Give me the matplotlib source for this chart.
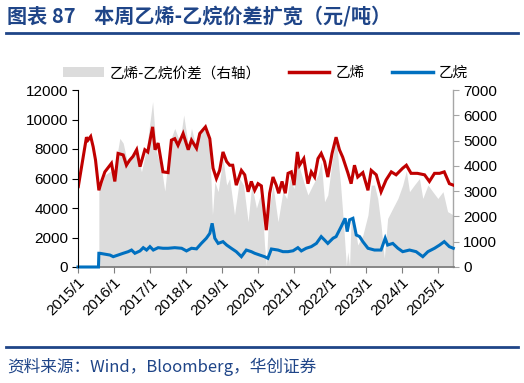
import pandas as pd
import matplotlib
matplotlib.use('Agg')
import matplotlib.pyplot as plt
from matplotlib.lines import Line2D
from matplotlib.patches import Patch

plt.rcParams['font.family'] = ['Liberation Sans', 'Noto Sans CJK SC', 'DejaVu Sans']
plt.rcParams['axes.unicode_minus'] = False

# 乙烯 (元/吨, 左轴)
ethylene_dates = ['2015-01-04', '2015-03-28', '2015-04-12', '2015-05-10', '2015-06-04', '2015-06-28',
                  '2015-08-01', '2015-08-28', '2015-10-01', '2015-12-07', '2016-01-10', '2016-02-12',
                  '2016-04-04', '2016-05-07', '2016-06-10', '2016-07-13', '2016-08-19', '2016-09-22',
                  '2016-11-10', '2016-12-10', '2017-01-28', '2017-02-22', '2017-03-25', '2017-05-13',
                  '2017-07-04', '2017-08-07', '2017-09-10', '2017-10-13', '2017-12-04', '2018-01-25',
                  '2018-02-27', '2018-04-19', '2018-05-22', '2018-07-19', '2018-09-01', '2018-10-04',
                  '2018-11-07', '2018-12-10', '2019-01-13', '2019-02-19', '2019-03-22', '2019-04-22',
                  '2019-05-28', '2019-07-19', '2019-08-22', '2019-09-25', '2019-10-28', '2019-12-01',
                  '2020-01-04', '2020-02-07', '2020-03-28', '2020-05-01', '2020-06-04', '2020-07-07',
                  '2020-08-01', '2020-09-04', '2020-10-07', '2020-11-04', '2020-12-07', '2021-01-04',
                  '2021-02-07', '2021-03-01', '2021-04-13', '2021-05-25', '2021-06-28', '2021-08-01',
                  '2021-09-04', '2021-10-07', '2021-11-10', '2021-12-13', '2022-01-25', '2022-03-07',
                  '2022-04-10', '2022-05-13', '2022-07-04', '2022-08-07', '2022-09-10', '2022-10-13',
                  '2022-12-04', '2023-01-25', '2023-02-27', '2023-04-19', '2023-06-07', '2023-07-28',
                  '2023-09-19', '2023-11-07', '2024-01-13', '2024-02-19', '2024-04-07', '2024-06-10',
                  '2024-08-22', '2024-10-10', '2024-12-01', '2025-01-22', '2025-03-10', '2025-05-01',
                  '2025-06-10']
ethylene = [5450, 8800, 8600, 8850, 8150, 7250,
            5200, 5800, 6450, 7030, 5800, 7700,
            7600, 6900, 7250, 7500, 7950, 6800,
            7950, 7800, 9500, 7950, 8400, 6450,
            6400, 8600, 8700, 8250, 9050, 7950,
            8600, 8050, 9050, 9500, 8700, 6700,
            6000, 6550, 7800, 7150, 6900, 6900,
            5550, 6550, 6250, 5100, 5800, 5200,
            5650, 5500, 2500, 5000, 6100, 5550,
            5000, 5800, 5000, 6350, 6450, 5550,
            7800, 6900, 7350, 5650, 6450, 6100,
            7350, 7700, 7150, 6100, 7700, 8800,
            7950, 7450, 6400, 5650, 6900, 6100,
            6400, 5200, 6550, 6250, 5100, 5900,
            6450, 6250, 6700, 6900, 6350, 6350,
            6250, 5800, 6350, 6350, 6450, 5650,
            5550]

# 乙烷 (元/吨, 左轴)
ethane_dates = ['2015-01-01', '2015-07-28', '2015-08-01', '2015-08-10', '2015-11-22', '2015-12-25',
                '2016-02-12', '2016-04-04', '2016-05-25', '2016-06-28', '2016-08-01', '2016-09-22',
                '2016-10-25', '2016-11-28', '2017-01-01', '2017-02-04', '2017-03-25', '2017-05-13',
                '2017-07-04', '2017-09-10', '2017-11-19', '2018-01-07', '2018-02-27', '2018-04-19',
                '2018-06-07', '2018-07-28', '2018-09-01', '2018-09-25', '2018-10-22', '2018-11-25',
                '2019-01-13', '2019-02-19', '2019-04-07', '2019-05-28', '2019-07-19', '2019-09-07',
                '2019-10-28', '2019-12-01', '2020-01-22', '2020-03-10', '2020-04-13', '2020-05-19',
                '2020-07-25', '2020-09-13', '2020-11-04', '2020-12-25', '2021-02-12', '2021-03-19',
                '2021-05-07', '2021-06-28', '2021-08-19', '2021-10-07', '2021-11-10', '2021-12-13',
                '2022-02-04', '2022-03-07', '2022-04-28', '2022-06-07', '2022-06-28', '2022-07-22',
                '2022-08-25', '2022-09-28', '2022-11-01', '2022-12-04', '2023-01-25', '2023-04-01',
                '2023-06-07', '2023-07-19', '2023-08-13', '2023-10-04', '2023-11-25', '2024-01-13',
                '2024-03-22', '2024-05-28', '2024-08-04', '2024-09-25', '2024-12-01', '2025-01-22',
                '2025-03-10', '2025-05-01', '2025-06-10']
ethane = [0, 0, 930, 930, 810, 700,
          810, 930, 1040, 1150, 930, 1090,
          1310, 1150, 1380, 1150, 1310, 1270,
          1270, 1310, 1270, 1090, 1270, 1230,
          1600, 1950, 2280, 2960, 1950, 1600,
          1720, 1490, 1270, 1040, 700, 1150,
          1040, 930, 810, 700, 590, 1220,
          1150, 1040, 1040, 1100, 1310, 1090,
          1270, 1380, 1600, 2060, 1830, 1600,
          1950, 2060, 2740, 3300, 2400, 3200,
          3300, 2170, 2060, 1720, 1270, 1150,
          1150, 1950, 1490, 1600, 1270, 1040,
          1150, 1040, 700, 1040, 1270, 1490,
          1720, 1380, 1270]

# 乙烯-乙烷价差 (右轴)
spread_dates = ['2015-08-01', '2015-08-18', '2015-10-01', '2016-01-10', '2016-03-01', '2016-04-04',
                '2016-05-25', '2016-08-01', '2016-10-07', '2016-11-28', '2017-01-28', '2017-03-07',
                '2017-04-28', '2017-06-01', '2017-07-22', '2017-09-10', '2017-11-01', '2017-12-10',
                '2018-01-25', '2018-02-27', '2018-04-19', '2018-06-07', '2018-07-28', '2018-09-01',
                '2018-09-28', '2018-10-22', '2018-11-25', '2019-01-13', '2019-02-19', '2019-03-22',
                '2019-05-10', '2019-07-01', '2019-08-10', '2019-09-25', '2019-11-01', '2019-12-19',
                '2020-02-07', '2020-03-10', '2020-03-28', '2020-04-22', '2020-06-04', '2020-07-25',
                '2020-09-13', '2020-10-22', '2020-11-22', '2021-01-04', '2021-02-07', '2021-03-10',
                '2021-04-22', '2021-05-25', '2021-07-13', '2021-09-04', '2021-10-07', '2021-11-10',
                '2021-12-13', '2022-01-25', '2022-03-07', '2022-04-22', '2022-05-25', '2022-06-19',
                '2022-07-04', '2022-07-22', '2022-08-07', '2022-09-10', '2022-10-13', '2022-12-04',
                '2023-01-25', '2023-02-27', '2023-04-01', '2023-05-04', '2023-06-07', '2023-07-10',
                '2023-08-13', '2023-10-04', '2023-11-25', '2024-01-13', '2024-02-19', '2024-03-22',
                '2024-05-10', '2024-07-01', '2024-08-04', '2024-09-25', '2024-11-13', '2025-01-04',
                '2025-02-25', '2025-04-13', '2025-06-10']
spread = [3000, 3120, 3640, 3900, 5090, 4900,
          4000, 4700, 3770, 4700, 6540, 4560,
          3900, 3000, 4950, 5480, 4950, 6010,
          4820, 5480, 4700, 5480, 5350, 4560,
          2060, 3370, 2980, 4300, 3240, 3500,
          2060, 3500, 3240, 1790, 3240, 2330,
          2980, 870, 50, 2190, 3240, 1790,
          2980, 2700, 3500, 3100, 4300, 3800,
          3240, 2850, 3240, 3640, 4160, 2580,
          2850, 4160, 5090, 3240, 1530, 50,
          600, 50, 1940, 1700, 870, 1260,
          2060, 3240, 3240, 2710, 1660, 350,
          1920, 2320, 2710, 3240, 3800, 2980,
          3240, 3500, 2710, 3240, 2980, 2710,
          2980, 2190, 2060]

year_ticks = ['2015-01-01', '2016-01-01', '2017-01-01', '2018-01-01', '2019-01-01', '2020-01-01',
              '2021-01-01', '2022-01-01', '2023-01-01', '2024-01-01', '2025-01-01']
year_labels = ['2015/1', '2016/1', '2017/1', '2018/1', '2019/1', '2020/1',
               '2021/1', '2022/1', '2023/1', '2024/1', '2025/1']

navy = '#1F4588'
red = '#C00000'
blue = '#0070C0'
grey_fill = '#DCDCDC'

fig = plt.figure(figsize=(5.24, 3.83), dpi=100)
ax = fig.add_axes([78 / 524, 1 - 267 / 383, (453.5 - 78) / 524, (267 - 90) / 383])
ax2 = ax.twinx()

sd = pd.to_datetime(spread_dates)
ax2.fill_between(sd, spread, 0, color=grey_fill, lw=0)
ax2.set_ylim(0, 7000)
ax2.set_yticks(range(0, 7001, 1000))

ax.plot(pd.to_datetime(ethylene_dates), ethylene, color=red, lw=2.2, solid_joinstyle='miter')
ax.plot(pd.to_datetime(ethane_dates), ethane, color=blue, lw=2.2, solid_joinstyle='miter',
        clip_on=False)
ax.set_ylim(0, 12000)
ax.set_yticks(range(0, 12001, 2000))
ax.set_xlim(pd.Timestamp('2015-01-01'), pd.Timestamp('2025-06-12'))
ax.set_xticks(pd.to_datetime(year_ticks))
ax.set_xticklabels(year_labels, rotation=45, ha='right', rotation_mode='anchor')

ax.set_zorder(ax2.get_zorder() + 1)
ax.patch.set_visible(False)

for a in (ax, ax2):
    a.spines['top'].set_visible(False)
ax.spines['right'].set_visible(False)
ax2.spines['left'].set_visible(False)
ax2.spines['bottom'].set_visible(False)
ax.spines['left'].set_color('black')
ax.spines['left'].set_linewidth(0.8)
ax.spines['bottom'].set_color('#7F7F7F')
ax.spines['bottom'].set_linewidth(1.3)
ax.spines['bottom'].set_zorder(1)
ax2.spines['right'].set_color('#A6A6A6')
ax2.spines['right'].set_linewidth(1.0)

ax.tick_params(axis='y', labelsize=11, length=4, width=0.8, color='black', pad=3)
ax.tick_params(axis='x', labelsize=11, length=4, width=0.8, color='#7F7F7F', pad=2)
ax2.tick_params(axis='y', labelsize=11, length=4, width=0.8, color='#A6A6A6', pad=3)

handles = [Patch(facecolor=grey_fill, edgecolor='none'),
           Line2D([], [], color=red, lw=2.5),
           Line2D([], [], color=blue, lw=2.5)]
labels = ['乙烯-乙烷价差（右轴）', '乙烯', '乙烷']
leg = ax.legend(handles, labels, ncol=3, loc='center left', frameon=False,
                bbox_to_anchor=(-0.075, 1.095), handlelength=2.8, handleheight=0.6,
                handletextpad=0.4, columnspacing=1.9,
                prop={'family': ['Noto Sans CJK SC'], 'size': 10.5})

# 标题与页眉页脚
fig.text(0.014, 1 - 16 / 383, '图表 87    本周乙烯-乙烷价差扩宽（元/吨）', fontsize=14.5,
         fontweight='bold', color=navy, va='center', family=['Noto Sans CJK SC'])
fig.add_artist(Line2D([6 / 524, 518 / 524], [1 - 33 / 383] * 2, color=navy, lw=2))
fig.add_artist(Line2D([6 / 524, 518 / 524], [1 - 347 / 383] * 2, color=navy, lw=2))
fig.text(0.014, 1 - 367 / 383, '资料来源：Wind，Bloomberg，华创证券', fontsize=12,
         color=navy, va='center', style='italic', family=['Noto Sans CJK SC'])

fig.savefig('out.png', dpi=100)
